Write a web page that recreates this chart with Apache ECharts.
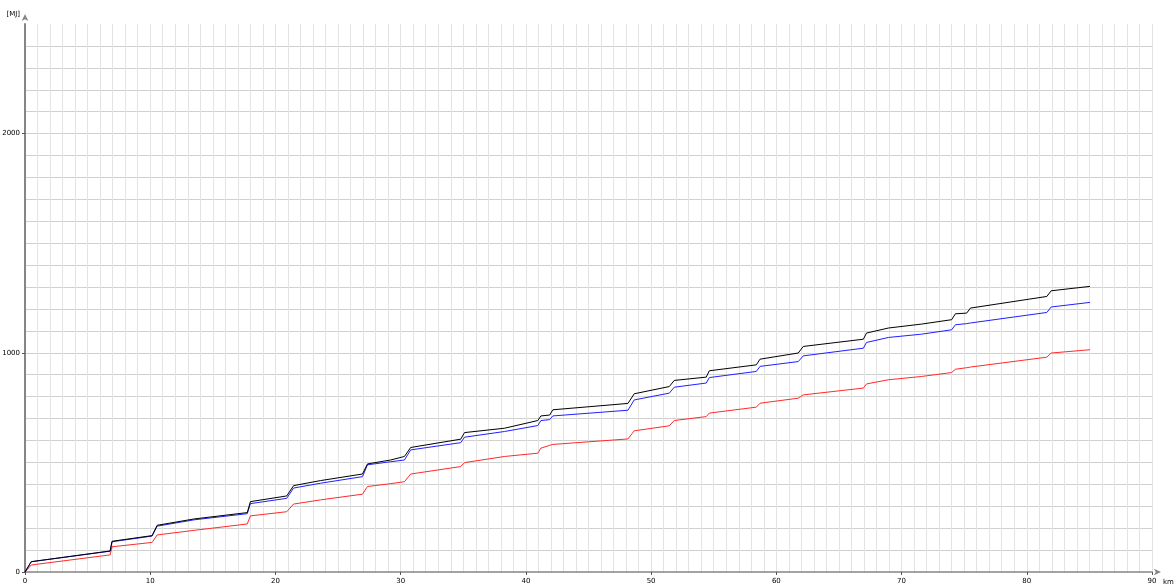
<!DOCTYPE html>
<html>
<head>
<meta charset="utf-8">
<script src="https://cdn.jsdelivr.net/npm/echarts@6/dist/echarts.min.js"></script>
<style>
  html, body { margin: 0; padding: 0; background: #fff; }
  #chart { width: 1174px; height: 585px; }
</style>
</head>
<body>
<div id="chart"></div>
<script>
/* distance points [km] where the curves are sampled (steps are pairs of close points) */
const km = [0, 0.5, 6.8, 6.95, 10.15, 10.55, 13.5, 17.75, 18.0, 20.9, 21.45, 23.6,
    26.95, 27.35, 29.2, 30.3, 30.8, 34.8, 35.1, 38.3, 40.95, 41.2, 41.9, 42.15,
    48.15, 48.65, 51.45, 51.85, 54.4, 54.65, 58.4, 58.7, 61.75, 62.15, 66.95, 67.2,
    68.95, 71.6, 74.0, 74.3, 75.2, 75.5, 81.6, 81.95, 85.05];

/* energy [MJ] */
const blackValues = [0, 47, 96, 140, 166, 213, 242, 271, 321, 347, 394, 417,
    447, 493, 511, 527, 568, 606, 636, 656, 691, 712, 716, 740,
    769, 813, 846, 874, 889, 918, 945, 971, 999, 1029, 1062, 1090,
    1113, 1131, 1151, 1178, 1181, 1204, 1257, 1283, 1303];
const blueValues = [0, 47, 95, 138, 164, 209, 238, 266, 312, 336, 383, 405,
    435, 489, 503, 511, 557, 590, 615, 641, 668, 691, 695, 712,
    738, 785, 816, 843, 862, 887, 915, 938, 960, 986, 1021, 1047,
    1070, 1085, 1105, 1128, 1133, 1136, 1184, 1209, 1230];
const redValues = [0, 32, 78, 115, 135, 169, 190, 219, 256, 275, 310, 329,
    355, 390, 403, 412, 447, 481, 499, 527, 542, 565, 578, 582,
    607, 644, 667, 691, 709, 725, 752, 770, 793, 808, 839, 858,
    877, 892, 910, 925, 932, 935, 980, 999, 1014];

const xLabels = [0, 10, 20, 30, 40, 50, 60, 70, 80, 90];
const yLabels = [0, 1000, 2000];

const pairs = vals => km.map((k, i) => [k, vals[i]]);

const chart = echarts.init(document.getElementById('chart'));
const labelStyle = { color: '#000', fontSize: 7, fontFamily: 'DejaVu Sans', formatter: v => String(v) };
const hidden = { axisLine: { show: false }, axisTick: { show: false }, axisLabel: { show: false } };

chart.setOption({
    animation: false,
    backgroundColor: '#fff',
    grid: { left: 25, right: 22, top: 24, bottom: 13, containLabel: false, outerBoundsMode: 'none' },
    xAxis: [{
        type: 'value',
        min: 0,
        max: 90,
        interval: 10,
        name: 'km',
        nameLocation: 'end',
        nameGap: 11,
        nameTextStyle: { color: '#000', fontSize: 7, fontFamily: 'DejaVu Sans', verticalAlign: 'top', padding: [7, 0, 0, 0] },
        axisLine: {
            show: true,
            onZero: false,
            symbol: ['none', 'arrow'],
            symbolSize: [5, 7],
            symbolOffset: [0, 9],
            lineStyle: { color: '#858585', width: 1.5 }
        },
        axisTick: { show: true, length: 3, lineStyle: { color: '#555' } },
        axisLabel: Object.assign({ margin: 6 }, labelStyle),
        splitLine: { show: false },
        z: 3
    }, Object.assign({
        // fine grid, one line per km
        type: 'value', min: 0, max: 90, interval: 1,
        splitLine: { show: true, lineStyle: { color: '#e3e3e3', width: 1 } },
        z: 0
    }, hidden)],
    yAxis: [{
        type: 'value',
        min: 0,
        max: 2500,
        interval: 100,
        name: '[MJ]',
        nameLocation: 'end',
        nameGap: 10,
        nameTextStyle: { color: '#000', fontSize: 7, fontFamily: 'DejaVu Sans', align: 'right', verticalAlign: 'middle', padding: [0, 5, 0, 0] },
        axisLine: {
            show: true,
            onZero: false,
            symbol: ['none', 'arrow'],
            symbolSize: [5, 7],
            symbolOffset: [0, 10],
            lineStyle: { color: '#858585', width: 2 }
        },
        axisTick: { show: true, length: 3, customValues: yLabels, lineStyle: { color: '#555' } },
        axisLabel: Object.assign({ customValues: yLabels, margin: 5 }, labelStyle),
        splitLine: { show: false },
        z: 3
    }, Object.assign({
        // fine grid, one line per 100 MJ
        type: 'value', min: 0, max: 2500, interval: 100,
        splitLine: { show: true, showMinLine: false, showMaxLine: false, lineStyle: { color: '#d0d0d0', width: 1 } },
        z: 0
    }, hidden)],
    series: [
        { name: 'red', type: 'line', data: pairs(redValues), showSymbol: false,
          lineStyle: { color: '#ff2a2a', width: 1 } },
        { name: 'blue', type: 'line', data: pairs(blueValues), showSymbol: false,
          lineStyle: { color: '#2020ff', width: 1 } },
        { name: 'black', type: 'line', data: pairs(blackValues), showSymbol: false,
          lineStyle: { color: '#000', width: 1 } }
    ]
});
</script>
</body>
</html>
